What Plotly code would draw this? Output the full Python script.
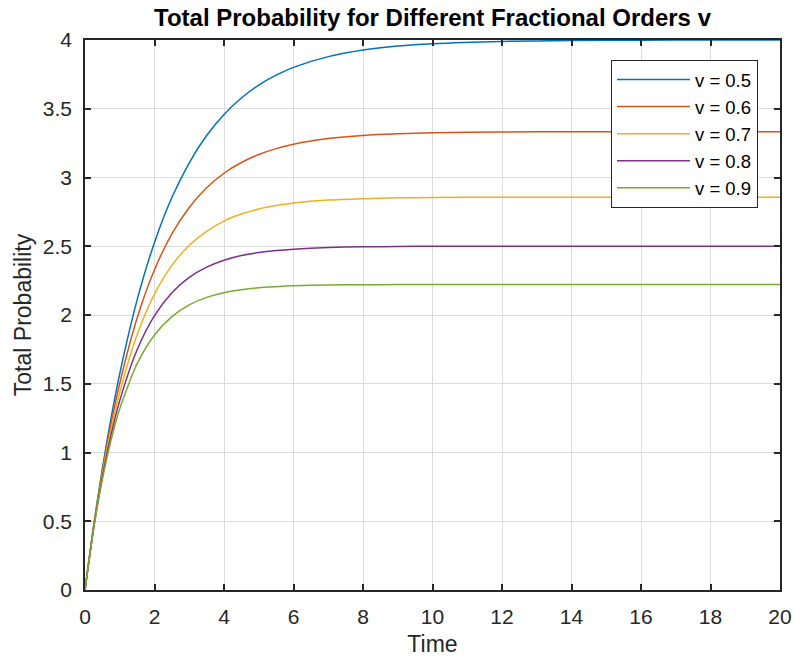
import plotly.graph_objects as go

t = [0, 0.25, 0.5, 0.75, 1, 1.5, 2, 2.5, 3, 3.5, 4, 4.5, 5, 5.5, 6, 7, 8, 9, 10, 12, 14, 16, 18, 20]

p_05 = [0, 0.470, 0.885, 1.250, 1.574, 2.110, 2.528, 2.854, 3.107, 3.305, 3.459, 3.578, 3.672, 3.744, 3.801, 3.879, 3.927, 3.956, 3.973, 3.990, 3.996, 3.999, 4.000, 4.000]
p_06 = [0, 0.464, 0.864, 1.208, 1.504, 1.978, 2.329, 2.590, 2.782, 2.925, 3.031, 3.109, 3.167, 3.210, 3.242, 3.283, 3.306, 3.318, 3.325, 3.331, 3.333, 3.333, 3.333, 3.333]
p_07 = [0, 0.458, 0.844, 1.168, 1.438, 1.857, 2.152, 2.361, 2.507, 2.609, 2.683, 2.734, 2.771, 2.796, 2.814, 2.836, 2.846, 2.852, 2.854, 2.857, 2.857, 2.857, 2.857, 2.857]
p_08 = [0, 0.453, 0.824, 1.128, 1.377, 1.747, 1.995, 2.162, 2.273, 2.348, 2.398, 2.432, 2.454, 2.469, 2.479, 2.491, 2.496, 2.498, 2.500, 2.500, 2.500, 2.500, 2.500, 2.500]
p_09 = [0, 0.446, 0.805, 1.090, 1.319, 1.646, 1.855, 1.988, 2.073, 2.128, 2.162, 2.183, 2.198, 2.206, 2.212, 2.218, 2.220, 2.221, 2.222, 2.222, 2.222, 2.222, 2.222, 2.222]

series = [("v = 0.5", p_05), ("v = 0.6", p_06), ("v = 0.7", p_07), ("v = 0.8", p_08), ("v = 0.9", p_09)]
colors = ["#0072BD", "#D95319", "#EDB120", "#7E2F8E", "#77AC30"]

x_ticks = [0, 2, 4, 6, 8, 10, 12, 14, 16, 18, 20]
y_ticks = [0, 0.5, 1, 1.5, 2, 2.5, 3, 3.5, 4]
y_tick_labels = ["0", "0.5", "1", "1.5", "2", "2.5", "3", "3.5", "4"]

FONT = "Liberation Sans, Arial, sans-serif"
W, H = 794, 657

fig = go.Figure()
for (name, vals), c in zip(series, colors):
    fig.add_trace(go.Scatter(x=t, y=vals, name=name, mode="lines",
                             line=dict(color=c, width=1.5, shape="spline", smoothing=0.7)))

axis_common = dict(
    showline=True, linecolor="#262626", linewidth=1.5, mirror="ticks",
    ticks="inside", ticklen=6, tickwidth=1.5, tickcolor="#262626",
    showgrid=True, gridcolor="#DCDCDC", gridwidth=1, zeroline=False,
    automargin=False,
    tickfont=dict(family=FONT, size=21, color="#262626"),
)

fig.update_layout(
    width=W, height=H,
    margin=dict(l=85, r=14, t=40, b=67),
    paper_bgcolor="white", plot_bgcolor="white",
    title=dict(text="<b>Total Probability for Different Fractional Orders v</b>",
               x=(85 + W - 14) / 2 / W, xanchor="center", y=1 - 18 / H, yanchor="middle",
               automargin=False,
               font=dict(family=FONT, size=24, color="black")),
    xaxis=dict(range=[0, 20], tickvals=x_ticks, ticklabelstandoff=7,
               title=dict(text="Time", font=dict(family=FONT, size=23, color="#262626"), standoff=12),
               **axis_common),
    yaxis=dict(range=[0, 4], tickvals=y_ticks, ticktext=y_tick_labels, ticklabelstandoff=7,
               title=dict(text="Total Probability", font=dict(family=FONT, size=23, color="#262626"), standoff=5),
               **axis_common),
    legend=dict(x=(611 - 85) / 695, y=(590 - 60) / 550, xanchor="left", yanchor="top",
                bgcolor="white", bordercolor="#262626", borderwidth=1, itemwidth=73,
                font=dict(family=FONT, size=18.5, color="black")),
    showlegend=True,
)

fig.write_html("out.html", config={"displayModeBar": False},
               post_script="document.body.style.margin='0';")
